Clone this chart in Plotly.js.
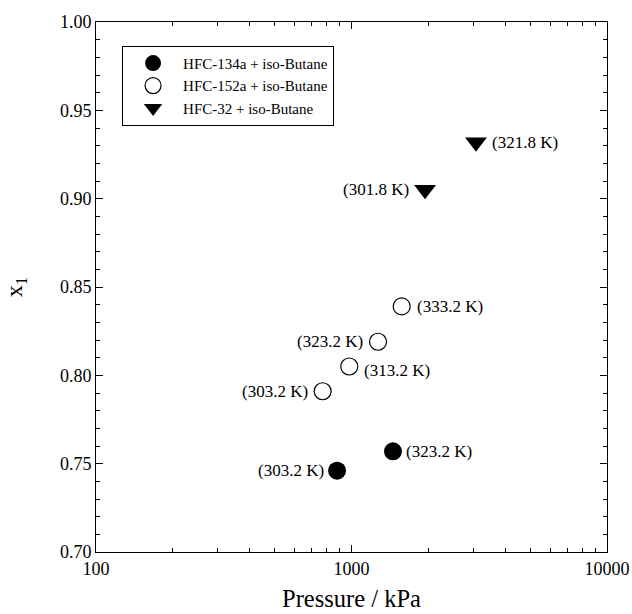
<!DOCTYPE html>
<html>
<head>
<meta charset="utf-8">
<script src="https://cdn.plot.ly/plotly-3.0.1.min.js"></script>
<style>html,body{margin:0;padding:0;background:#fff;}#chart{width:632px;height:614px;}</style>
</head>
<body>
<div id="chart"></div>
<script>
// Data
const seriesNames = ["HFC-134a + iso-Butane", "HFC-152a + iso-Butane", "HFC-32 + iso-Butane"];
const p134a = [878, 1453];
const x134a = [0.746, 0.757];
const t134a = ["(303.2 K)", "(323.2 K)"];
const p152a = [771, 980, 1270, 1572];
const x152a = [0.791, 0.805, 0.819, 0.839];
const t152a = ["(303.2 K)", "(313.2 K)", "(323.2 K)", "(333.2 K)"];
const p32 = [1940, 3070];
const x32 = [0.905, 0.932];
const t32 = ["(301.8 K)", "(321.8 K)"];
const xTickVals = [100, 1000, 10000];
const xTickText = ["100", "1000", "10000"];

// label placement: side of marker (-1 left, +1 right), extra vertical shift
const side134a = [-1, 1];
const side152a = [-1, 1, -1, 1];
const dy152a = [0, -4, 0, 0];
const side32 = [-1, 1];

const serif = "Liberation Serif, Times New Roman, serif";

const traces = [
  {x: p134a, y: x134a, name: seriesNames[0], mode: "markers", type: "scatter",
   marker: {symbol: "circle", size: 18, color: "#000", line: {width: 0}}},
  {x: p152a, y: x152a, name: seriesNames[1], mode: "markers", type: "scatter",
   marker: {symbol: "circle-open", size: 17, color: "#000", line: {width: 1.2, color: "#000"}}},
  {x: p32, y: x32, name: seriesNames[2], mode: "markers", type: "scatter",
   marker: {symbol: "triangle-down", size: 19, color: "#000", line: {width: 0}}}
];

function makeAnn(ps, xs, ts, sides, dys, gap) {
  return ps.map((p, i) => ({
    x: Math.log10(p), y: xs[i], xref: "x", yref: "y", text: ts[i], showarrow: false,
    xanchor: sides[i] < 0 ? "right" : "left",
    xshift: sides[i] * gap, yshift: dys ? dys[i] : 0,
    font: {family: serif, size: 17, color: "#000"}
  }));
}

const annotations = [].concat(
  makeAnn(p134a, x134a, t134a, side134a, null, 11),
  makeAnn(p152a, x152a, t152a, side152a, dy152a, 13),
  makeAnn(p32, x32, t32, side32, null, 14)
);

const layout = {
  width: 632, height: 614,
  margin: {l: 96, r: 25, t: 22, b: 62},
  paper_bgcolor: "#fff", plot_bgcolor: "#fff",
  font: {family: serif, size: 17, color: "#000"},
  showlegend: true,
  legend: {x: 0.051, y: 0.955, xanchor: "left", yanchor: "top",
           bordercolor: "#000", borderwidth: 1, bgcolor: "#fff",
           font: {family: serif, size: 15, color: "#000"},
           itemsizing: "trace", itemwidth: 50, tracegroupgap: 0},
  xaxis: {type: "log", range: [2, 4], tickvals: xTickVals, ticktext: xTickText,
          ticks: "inside", ticklen: 7, tickcolor: "#000", showgrid: false, zeroline: false,
          showline: true, linecolor: "#000", linewidth: 1, mirror: "ticks",
          minor: {ticks: "inside", ticklen: 4, dtick: "D1", tickcolor: "#000", showgrid: false},
          tickfont: {family: serif, size: 18, color: "#000"},
          title: {text: "Pressure / kPa", font: {family: serif, size: 24.5, color: "#000"}, standoff: 12}},
  yaxis: {range: [0.70, 1.00], dtick: 0.05, tick0: 0.70, tickformat: ".2f",
          ticks: "inside", ticklen: 7, tickcolor: "#000", showgrid: false, zeroline: false,
          showline: true, linecolor: "#000", linewidth: 1, mirror: "ticks",
          minor: {ticks: "inside", ticklen: 4, dtick: 0.01, tickcolor: "#000", showgrid: false},
          tickfont: {family: serif, size: 18, color: "#000"},
          title: {text: "x<sub>1</sub>", font: {family: serif, size: 24, color: "#000"}, standoff: 30}},
  annotations: annotations
};

Plotly.newPlot("chart", traces, layout, {displayModeBar: false, staticPlot: true});
</script>
</body>
</html>
